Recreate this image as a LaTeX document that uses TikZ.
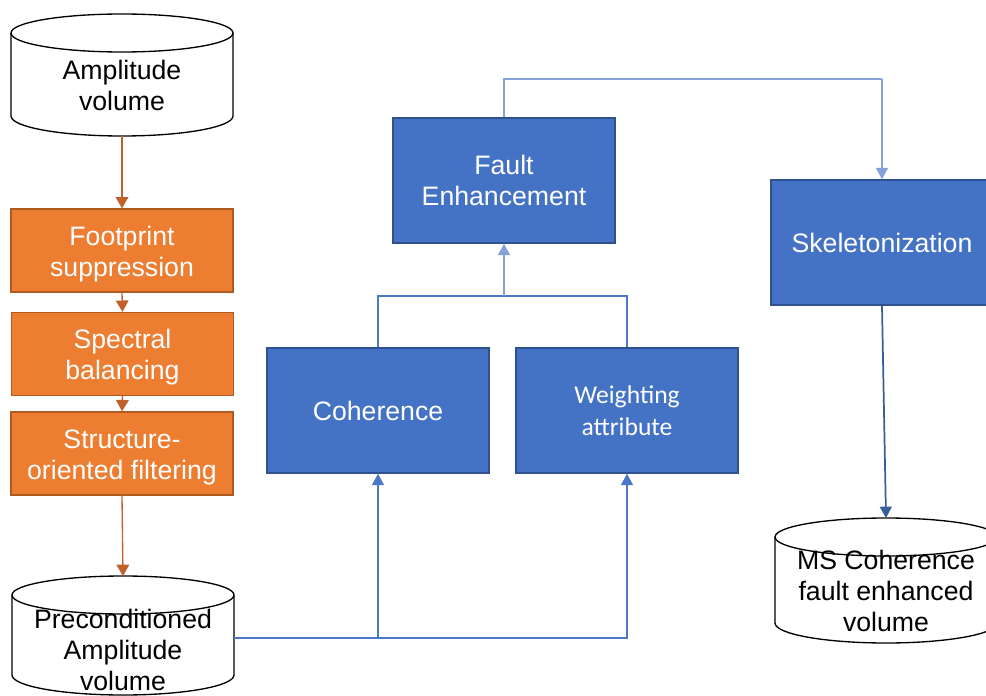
\documentclass[tikz,border=0pt]{standalone}
\usepackage{fontspec}
\setmainfont{Liberation Sans}
\newfontfamily\calfont{Carlito}
\usetikzlibrary{arrows.meta}

\definecolor{orfill}{HTML}{ED7D31}
\definecolor{ordraw}{HTML}{AE5A21}
\definecolor{orline}{HTML}{C0602A}
\definecolor{blfill}{HTML}{4472C4}
\definecolor{bldraw}{HTML}{2F528F}
\definecolor{blline}{HTML}{4A78C8}
\definecolor{bllight}{HTML}{86A3D8}
\definecolor{bldark}{HTML}{3A5D9C}

% drum: name, centre x, top-ellipse y, bottom-ellipse y, text y, text
\newcommand{\drum}[6]{%
  \fill[white] (#2-111,-#3) -- (#2-111,-#4)
    arc[start angle=180,end angle=360,x radius=111,y radius=20]
    -- (#2+111,-#3)
    arc[start angle=0,end angle=180,x radius=111,y radius=19] -- cycle;
  \node[drumtext] (#1) at (#2,-#5) {#6};
  \draw[drumline] (#2-111,-#3) -- (#2-111,-#4)
    arc[start angle=180,end angle=360,x radius=111,y radius=20]
    -- (#2+111,-#3);
  \draw[drumline] (#2,-#3) ellipse[x radius=111,y radius=19];
  \coordinate (#1-top) at (#2,-#3+19);
  \coordinate (#1-bot) at (#2,-#4-20);
}

\tikzset{
  drumtext/.style={align=center,inner sep=0pt,text=black,
    font=\fontsize{20}{23.25}\selectfont},
  drumline/.style={draw=black,line width=1pt},
  orbox/.style={rectangle,fill=orfill,draw=ordraw,line width=1pt,
    minimum width=166.5pt,minimum height=62.25pt,inner sep=0pt},
  ortext/.style={align=center,inner sep=0pt,text=white,yshift=-2.7pt,
    font=\fontsize{20}{23.25}\selectfont},
  blbox/.style={rectangle,fill=blfill,draw=bldraw,line width=1.1pt,
    minimum width=166.5pt,minimum height=93.75pt,inner sep=0pt,
    align=center,text=white,font=\fontsize{20}{23.25}\selectfont},
  calbox/.style={blbox,font=\calfont\fontsize{19.2}{24}\selectfont},
  orarrow/.style={draw=orline,line width=1pt,
    -{Triangle[length=8.5pt,width=9.5pt]}},
  blarrow/.style={draw=blline,line width=0.8pt,
    -{Triangle[length=8.5pt,width=9pt]}},
  blplain/.style={draw=blline,line width=0.8pt},
  lightarrow/.style={draw=bllight,line width=1pt,
    -{Triangle[length=8.5pt,width=9pt]}},
  lightplain/.style={draw=bllight,line width=1pt},
  darkarrow/.style={draw=bldark,line width=1.3pt,
    -{Triangle[length=8.5pt,width=9pt]}},
}

\begin{document}
\begin{tikzpicture}[x=0.75pt,y=0.75pt]
  \useasboundingbox (0,0) rectangle (986,-696);
  \clip (0,0) rectangle (986,-696);
  \fill[white] (0,0) rectangle (986,-696);

  % input and output volumes
  \drum{amp}{122}{33}{116}{85.5}{Amplitude\\volume}
  \drum{pre}{123}{595}{675}{650}{Preconditioned\\Amplitude\\volume}
  \drum{ms}{886}{537}{623}{591}{MS Coherence\\fault enhanced\\volume}

  % conditioning steps
  \node[orbox,label={[ortext]center:Footprint\\suppression}] (foot) at (122,-250.5) {};
  \node[orbox,label={[ortext]center:Spectral\\balancing}] (spec) at (122.5,-354) {};
  \node[orbox,label={[ortext]center:Structure-\\oriented filtering}] (sof) at (122,-453.5) {};

  % attribute steps
  \node[blbox]  (coh)  at (378,-410.5) {Coherence};
  \node[calbox] (wgt)  at (627,-410.5) {Weighting\\attribute};
  \node[blbox]  (fe)   at (504,-180.5) {Fault\\Enhancement};
  \node[blbox]  (skel) at (882,-242.5) {Skeletonization};

  \coordinate (pre-out) at (234,-638);
  \coordinate (join) at (504,-296);
  \coordinate (bend) at (882,-79);

  % conditioning chain
  \draw[orarrow] (amp-bot) -- (foot.north);
  \draw[orarrow] (foot.south) -- (spec.north);
  \draw[orarrow] (spec.south) -- (sof.north);
  \draw[orarrow] (sof.south) -- (pre-top);

  % attribute flow
  \draw[blarrow] (pre-out) -| (coh.south);
  \draw[blarrow] (pre-out) -| (wgt.south);
  \draw[blplain] (coh.north) |- (join) -| (wgt.north);
  \draw[lightarrow] (join) -- (fe.south);
  \draw[lightplain] (fe.north) |- (bend);
  \draw[lightarrow] (bend) -- (skel.north);
  \draw[darkarrow] (skel.south) -- (ms-top);
\end{tikzpicture}
\end{document}
